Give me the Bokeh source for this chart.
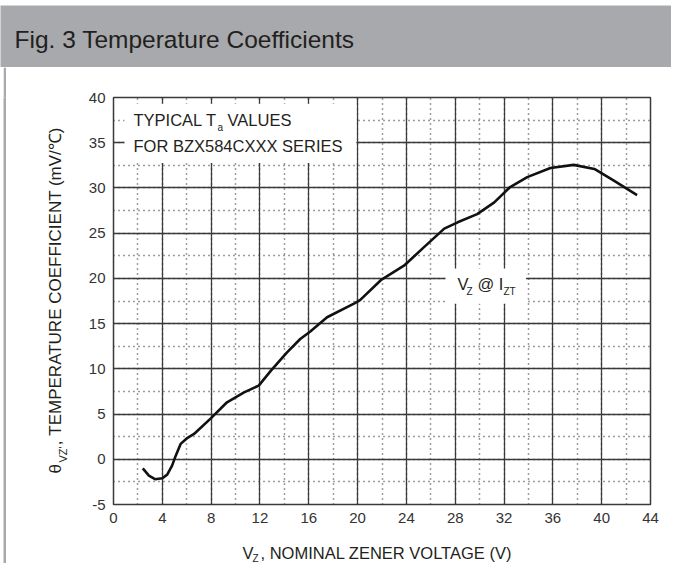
import math
from bokeh.plotting import figure
from bokeh.layouts import column, row
from bokeh.models import (Range1d, SingleIntervalTicker, BoxAnnotation, Label, Grid,
                          PrintfTickFormatter, Spacer)
from bokeh.embed import file_html
from bokeh.resources import INLINE

# ---- data ----
vz = [2.4, 2.9, 3.4, 4.0, 4.4, 4.8, 5.1, 5.5, 6.0, 6.6, 7.95, 9.3, 10.7, 11.9,
      12.9, 14.2, 15.3, 16.1, 17.5, 19.7, 20.2, 21.9, 23.8, 25.4, 27.1, 28.2,
      29.8, 31.2, 32.5, 33.9, 35.8, 37.7, 39.4, 41.0, 42.9]
theta = [-1.0, -1.8, -2.2, -2.1, -1.7, -0.7, 0.4, 1.7, 2.3, 2.8, 4.5, 6.3, 7.4, 8.15,
         9.8, 11.8, 13.3, 14.1, 15.7, 17.2, 17.6, 19.8, 21.4, 23.4, 25.5, 26.2,
         27.1, 28.4, 30.1, 31.2, 32.2, 32.55, 32.1, 30.8, 29.2]
x_major_step, x_minor_step = 4, 2
y_major_step, y_minor_step = 5, 2.5

FONT = "Liberation Sans"
GRID = "#3a3a3a"
TXT = "#231f20"
BAR = "#a7a9ac"
NB = "\u00a0"


def lab(fig, x, y, text, size, angle=0.0, place="center"):
    fig.add_layout(Label(x=x, y=y, x_units="canvas", y_units="canvas", text=text,
                         text_font=FONT, text_font_size=f"{size}px", text_color=TXT,
                         text_baseline="alphabetic", text_align="left", angle=angle),
                   place)


# ---------- grey title bar ----------
top = figure(width=671, height=67, frame_width=671, frame_height=62, min_border_top=5,
             min_border_left=0, min_border_right=0, min_border_bottom=0,
             x_axis_type=None, y_axis_type=None, output_backend="svg",
             toolbar_location=None, x_range=Range1d(0, 1), y_range=Range1d(0, 1))
top.title.visible = False
top.grid.visible = False
top.background_fill_color = BAR
top.border_fill_color = "white"
top.outline_line_color = None
lab(top, 14, 39, "Fig. 3 Temperature Coefficients", 24.5)

# ---------- thin grey rule on the left ----------
rule = figure(width=3, height=496, frame_width=3, frame_height=496, min_border=0,
              x_axis_type=None, y_axis_type=None, output_backend="svg",
              toolbar_location=None, x_range=Range1d(0, 1), y_range=Range1d(0, 1))
rule.title.visible = False
rule.grid.visible = False
rule.background_fill_color = BAR
rule.border_fill_color = BAR
rule.outline_line_color = None

# ---------- main chart ----------
p = figure(frame_width=537, frame_height=407, min_border_left=107, min_border_right=21,
           min_border_top=30, min_border_bottom=59, output_backend="svg",
           toolbar_location=None, x_range=Range1d(0, 44), y_range=Range1d(-5, 40))
p.title.visible = False
p.background_fill_color = "white"
p.border_fill_color = "white"
p.outline_line_color = GRID
p.outline_line_width = 1.5

xt = SingleIntervalTicker(interval=x_major_step)
yt = SingleIntervalTicker(interval=y_major_step)
p.xaxis.ticker = xt
p.yaxis.ticker = yt
p.xgrid.ticker = xt
p.ygrid.ticker = yt
for ax in (p.xaxis[0], p.yaxis[0]):
    ax.formatter = PrintfTickFormatter(format="%d")
    ax.axis_line_color = None
    ax.major_tick_out = 0
    ax.major_tick_in = 0
    ax.minor_tick_out = 0
    ax.minor_tick_in = 0
    ax.major_label_text_font = FONT
    ax.major_label_text_font_size = "15px"
    ax.major_label_text_color = "#333333"
    ax.major_label_standoff = 8
for g in (p.xgrid[0], p.ygrid[0]):
    g.grid_line_color = GRID
    g.grid_line_width = 1.3
    g.grid_line_alpha = 1
    g.minor_grid_line_color = None

for dim, step in ((0, x_minor_step), (1, y_minor_step)):
    p.add_layout(Grid(dimension=dim, ticker=SingleIntervalTicker(interval=step),
                      grid_line_color=GRID, grid_line_width=1.5, grid_line_dash="1 4"))

p.line(vz, theta, line_color="#111111", line_width=2.6)

p.add_layout(BoxAnnotation(left=0.9, right=19.9, bottom=32.75, top=39.3,
                           fill_color="white", fill_alpha=1, line_color=None))
p.add_layout(BoxAnnotation(left=27.2, right=33.8, bottom=17.2, top=21.1,
                           fill_color="white", fill_alpha=1, line_color=None))

# in-plot texts
lab(p, 127, 52.3, "TYPICAL T", 16.5)
lab(p, 211, 60.3, "a", 10)
lab(p, 221, 52.3, "VALUES", 16.5)
lab(p, 127, 78.3, "FOR BZX584CXXX SERIES", 16.5)
lab(p, 451, 216.3, "V", 16.5)
lab(p, 460, 224.3, "Z", 10)
lab(p, 471, 216.3, "@ I", 16.5)
lab(p, 497, 224.3, "ZT", 10)

# x axis title (side panels chosen so that the layout is not enlarged)
lab(p, 236, 485.3, "V", 16.5, place="left")
lab(p, 246, 491.3, "Z", 10, place="left")
lab(p, 254, 485.3, ", NOMINAL ZENER VOLTAGE (V)", 16.5, place="below")
# y axis title (rotated)
lab(p, 49, 406, "\u03b8" + NB * 4 + ", TEMPERATURE COEFFICIENT (mV/\u2103)", 17,
    math.pi / 2, place="left")
lab(p, 56, 395, "VZ'", 11, math.pi / 2, place="left")

layout = column(top, row(Spacer(width=3, height=496), rule, p))
open("out.html", "w").write(file_html(layout, INLINE))
